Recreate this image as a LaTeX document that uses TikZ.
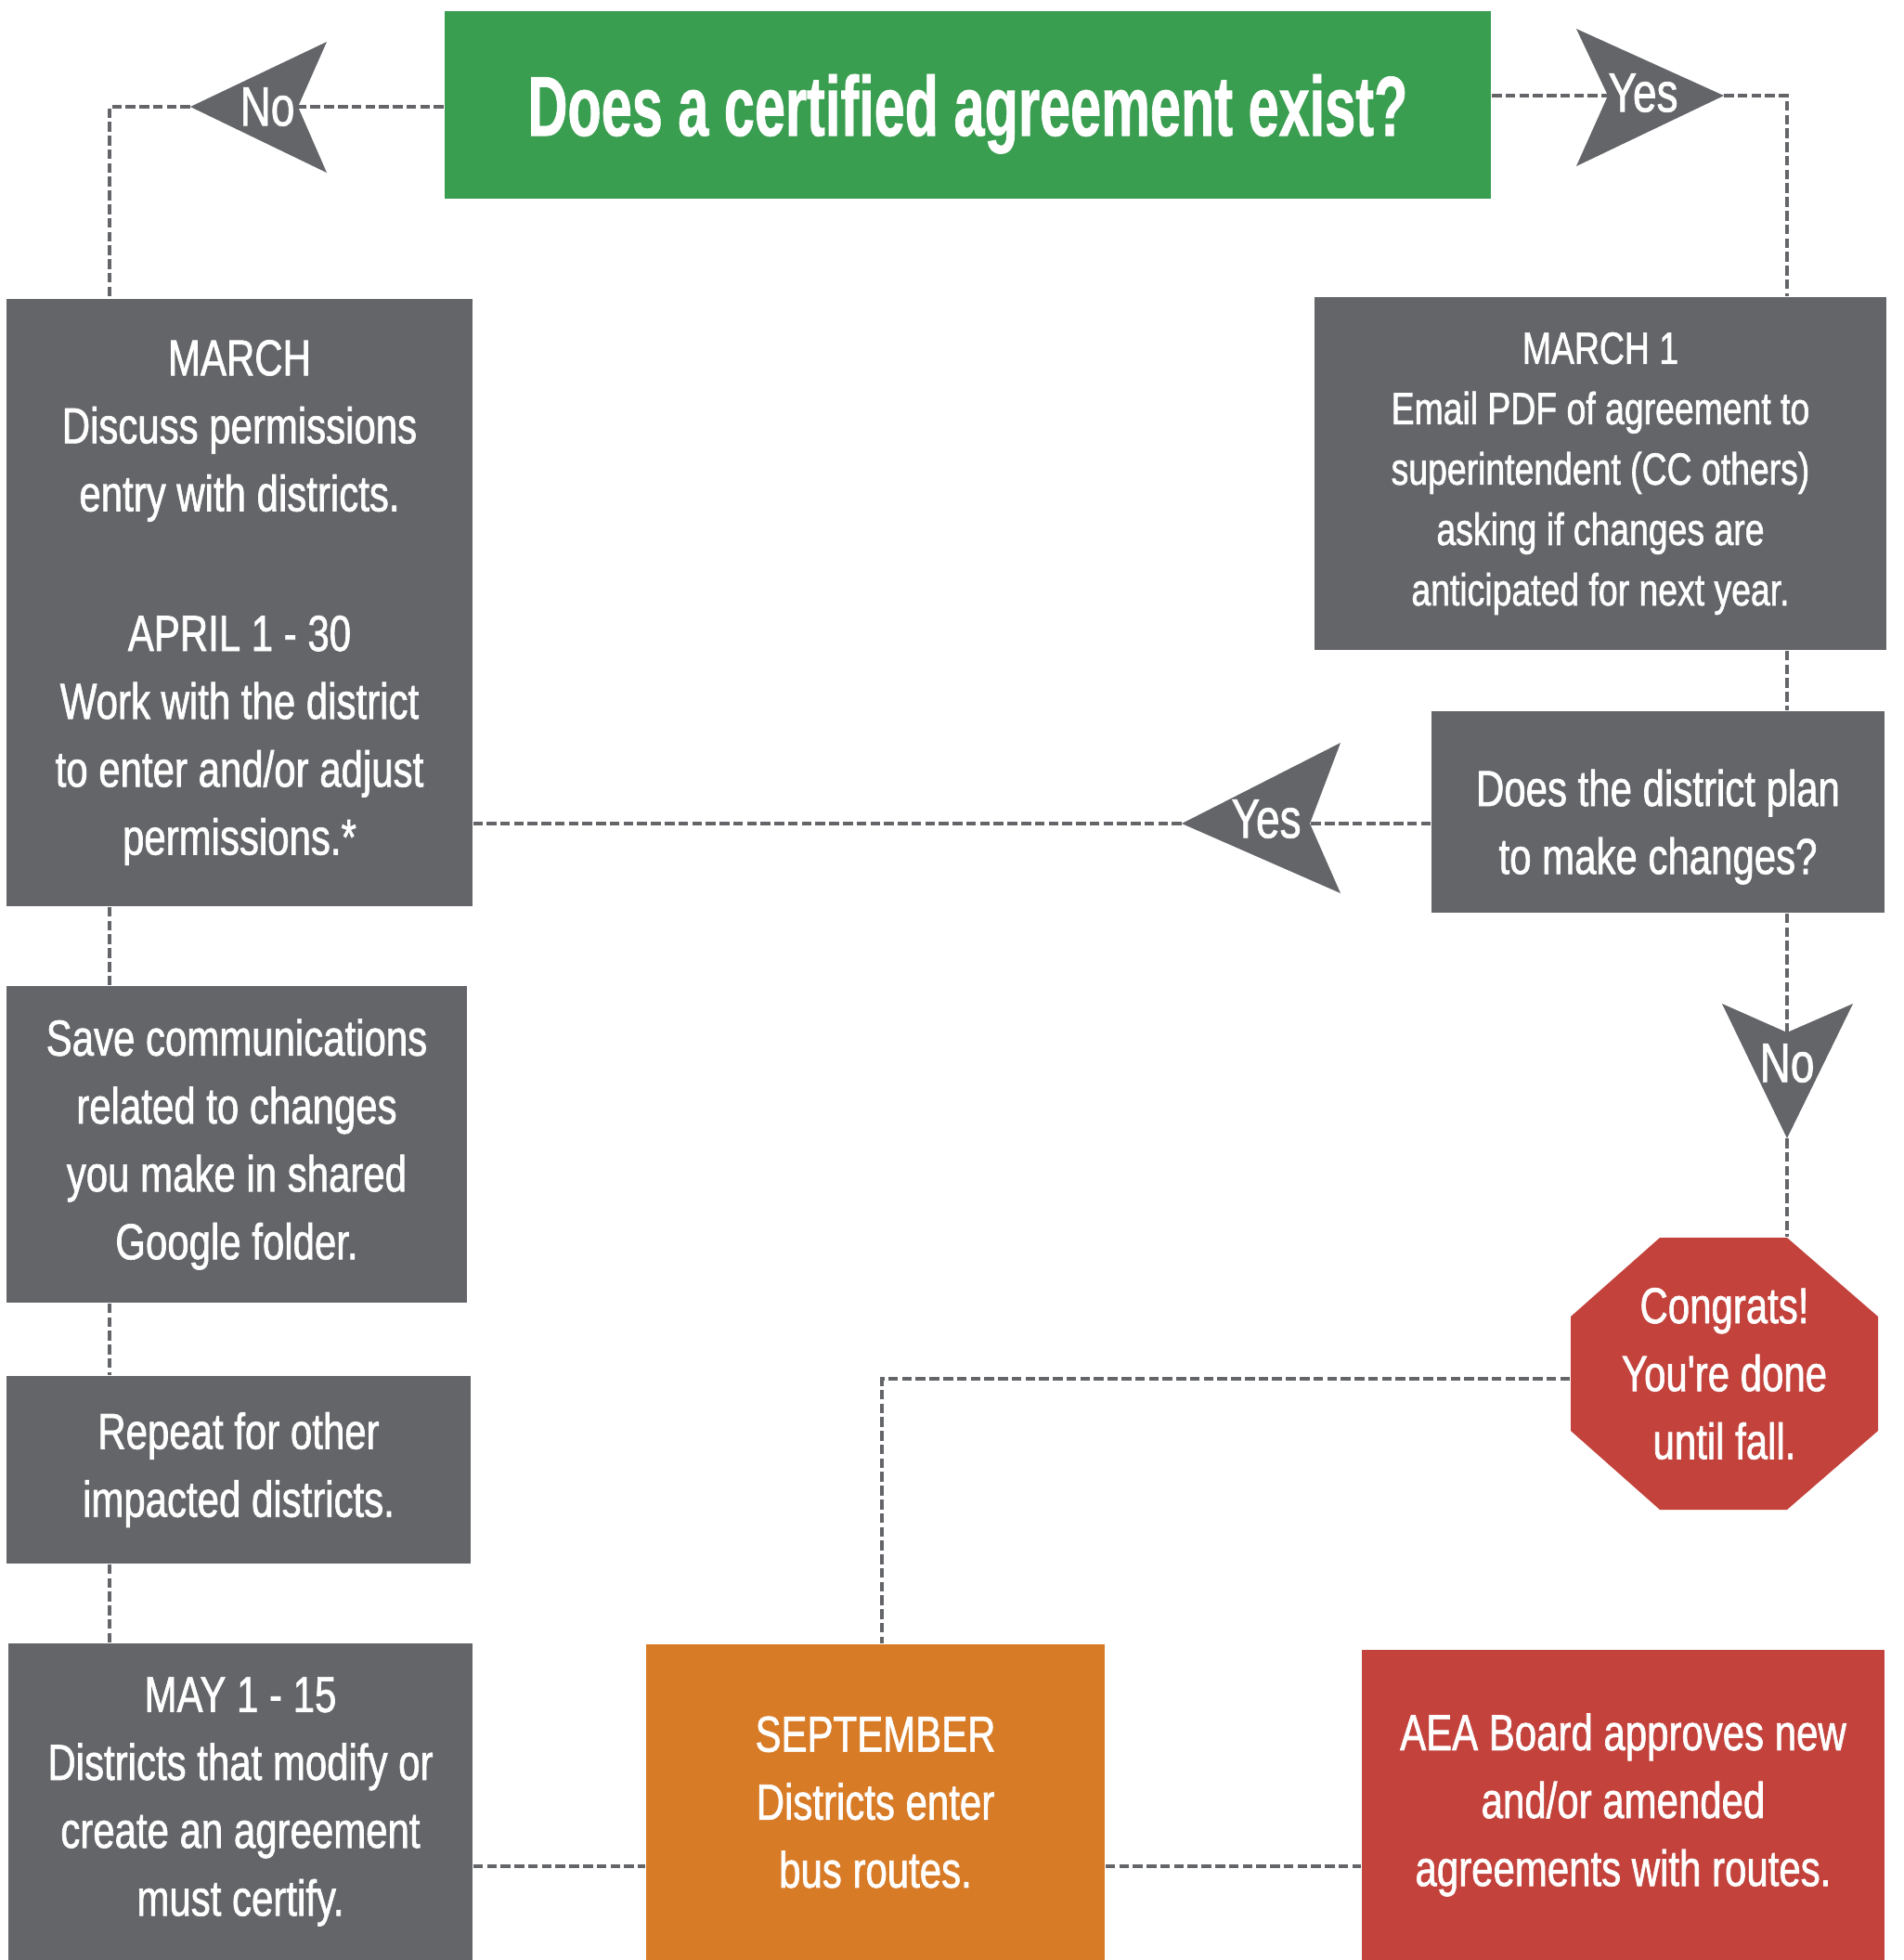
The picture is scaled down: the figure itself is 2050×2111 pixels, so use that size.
\documentclass[tikz,border=0pt]{standalone}
\usepackage{fontspec}
\setmainfont[FakeStretch=0.77,FakeBold=1.2,Ligatures=TeXOff]{Liberation Sans}
\newfontfamily\titlefont[FakeStretch=0.65,FakeBold=0.8]{Liberation Sans Bold}
\definecolor{boxgray}{HTML}{646569}
\definecolor{boxgreen}{HTML}{3A9E50}
\definecolor{boxred}{HTML}{C3423C}
\definecolor{boxorange}{HTML}{D87B27}

\begin{document}
\begin{tikzpicture}
      [x=0.01cm,y=-0.01cm,
       box/.style={rectangle,fill=boxgray,text=white,align=center,inner sep=0pt,font=\fontsize{15.5}{20.8}\selectfont},
       link/.style={draw=boxgray,line width=1.1pt,dash pattern=on 3pt off 1.2pt},
       tag/.style={text=white,inner sep=0pt,font=\fontsize{17}{20}\selectfont}]
        \useasboundingbox (0,0) rectangle (2050,2111);

        \node[box,fill=boxgreen,minimum width=112.7mm,minimum height=20.2mm,text depth=0pt,
              font=\titlefont\fontsize{26}{30}\selectfont] (title) at (1042.5,113) {Does a certified agreement exist?};
        \node[box,minimum width=50.2mm,minimum height=65.4mm] (march) at (258,649)
              {MARCH\\Discuss permissions\\entry with districts.\\[22pt]APRIL 1 - 30\\Work with the district\\to enter and/or adjust\\permissions.*};
        \node[box,minimum width=49.6mm,minimum height=34.1mm] (save) at (255,1232.5)
              {Save communications\\related to changes\\you make in shared\\Google folder.};
        \node[box,minimum width=50mm,minimum height=20.2mm] (repeat) at (257,1583)
              {Repeat for other\\impacted districts.};
        \node[box,minimum width=50mm,minimum height=34.1mm] (may) at (259,1940.5)
              {MAY 1 - 15\\Districts that modify or\\create an agreement\\must certify.};
        \node[box,fill=boxorange,minimum width=49.4mm,minimum height=34mm] (sept) at (943,1941)
              {SEPTEMBER\\Districts enter\\bus routes.};
        \node[box,fill=boxred,minimum width=56.3mm,minimum height=33.4mm] (aea) at (1748.5,1944)
              {AEA Board approves new\\and/or amended\\agreements with routes.};
        \node[box,minimum width=61.6mm,minimum height=38mm,font=\fontsize{13.8}{18.5}\selectfont] (march1) at (1724,510)
              {MARCH 1\\Email PDF of agreement to\\superintendent (CC others)\\asking if changes are\\anticipated for next year.};
        % strut pushes the two lines down a little
        \node[box,minimum width=48.8mm,minimum height=21.7mm] (plan) at (1786,874.5)
              {\rule{0pt}{20.4pt}Does the district plan\\to make changes?};

        \fill[boxred] (1788,1333) -- (1925,1333) -- (2023,1418) -- (2023,1541) -- (1925,1626) -- (1788,1626) -- (1692,1541) -- (1692,1418) -- cycle;
        \node[box,fill=none,minimum width=33.1mm,minimum height=29.3mm] (stop) at (1857.5,1479.5)
              {Congrats!\\You're done\\until fall.};

        \coordinate (lefttrack) at (118,0);
        \coordinate (righttrack) at (1925,0);
        \coordinate (midtrack) at (950,0);
        \coordinate (bottomtrack) at (0,2010);
        \coordinate (no1tip) at (205,115);
        \coordinate (no1notch) at (321,115);
        \coordinate (yes1tip) at (1857,103);
        \coordinate (yes1notch) at (1732,103);
        \coordinate (yes2tip) at (1273,887);
        \coordinate (yes2notch) at (1411,887);
        \coordinate (no2tip) at (1925,1226);
        \coordinate (no2notch) at (1925,1112);

        \draw[link] (title.west |- no1notch) -- (no1notch);
        \draw[link] (no1tip) -| (lefttrack |- march.north);
        \draw[link] (title.east |- yes1notch) -- (yes1notch);
        \draw[link] (yes1tip) -| (righttrack |- march1.north);
        \draw[link] (righttrack |- march1.south) -- (righttrack |- plan.north);
        \draw[link] (plan.west |- yes2notch) -- (yes2notch);
        \draw[link] (yes2tip) -- (march.east |- yes2tip);
        \draw[link] (righttrack |- plan.south) -- (no2notch);
        \draw[link] (no2tip) -- (righttrack |- stop.north);
        \draw[link] ([yshift=-1.5pt]stop.west) -| (midtrack |- sept.north);
        \draw[link] (lefttrack |- march.south) -- (lefttrack |- save.north);
        \draw[link] (lefttrack |- save.south) -- (lefttrack |- repeat.north);
        \draw[link] (lefttrack |- repeat.south) -- (lefttrack |- may.north);
        \draw[link] (may.east |- bottomtrack) -- (sept.west |- bottomtrack);
        \draw[link] (sept.east |- bottomtrack) -- (aea.west |- bottomtrack);

        \fill[boxgray] (no1tip) -- (352,45) -- (no1notch) -- (352,186) -- cycle;
        \node[tag] (no1) at (288,115) {No};
        \fill[boxgray] (yes1tip) -- (1698,31) -- (yes1notch) -- (1698,179) -- cycle;
        \node[tag] (yes1) at (1770,100) {Yes};
        \fill[boxgray] (yes2tip) -- (1444,800) -- (yes2notch) -- (1444,962) -- cycle;
        \node[tag] (yes2) at (1364,882) {Yes};
        \fill[boxgray] (no2tip) -- (1855,1081) -- (no2notch) -- (1996,1081) -- cycle;
        \node[tag] (no2) at (1925,1145) {No};

      \end{tikzpicture}
\end{document}
